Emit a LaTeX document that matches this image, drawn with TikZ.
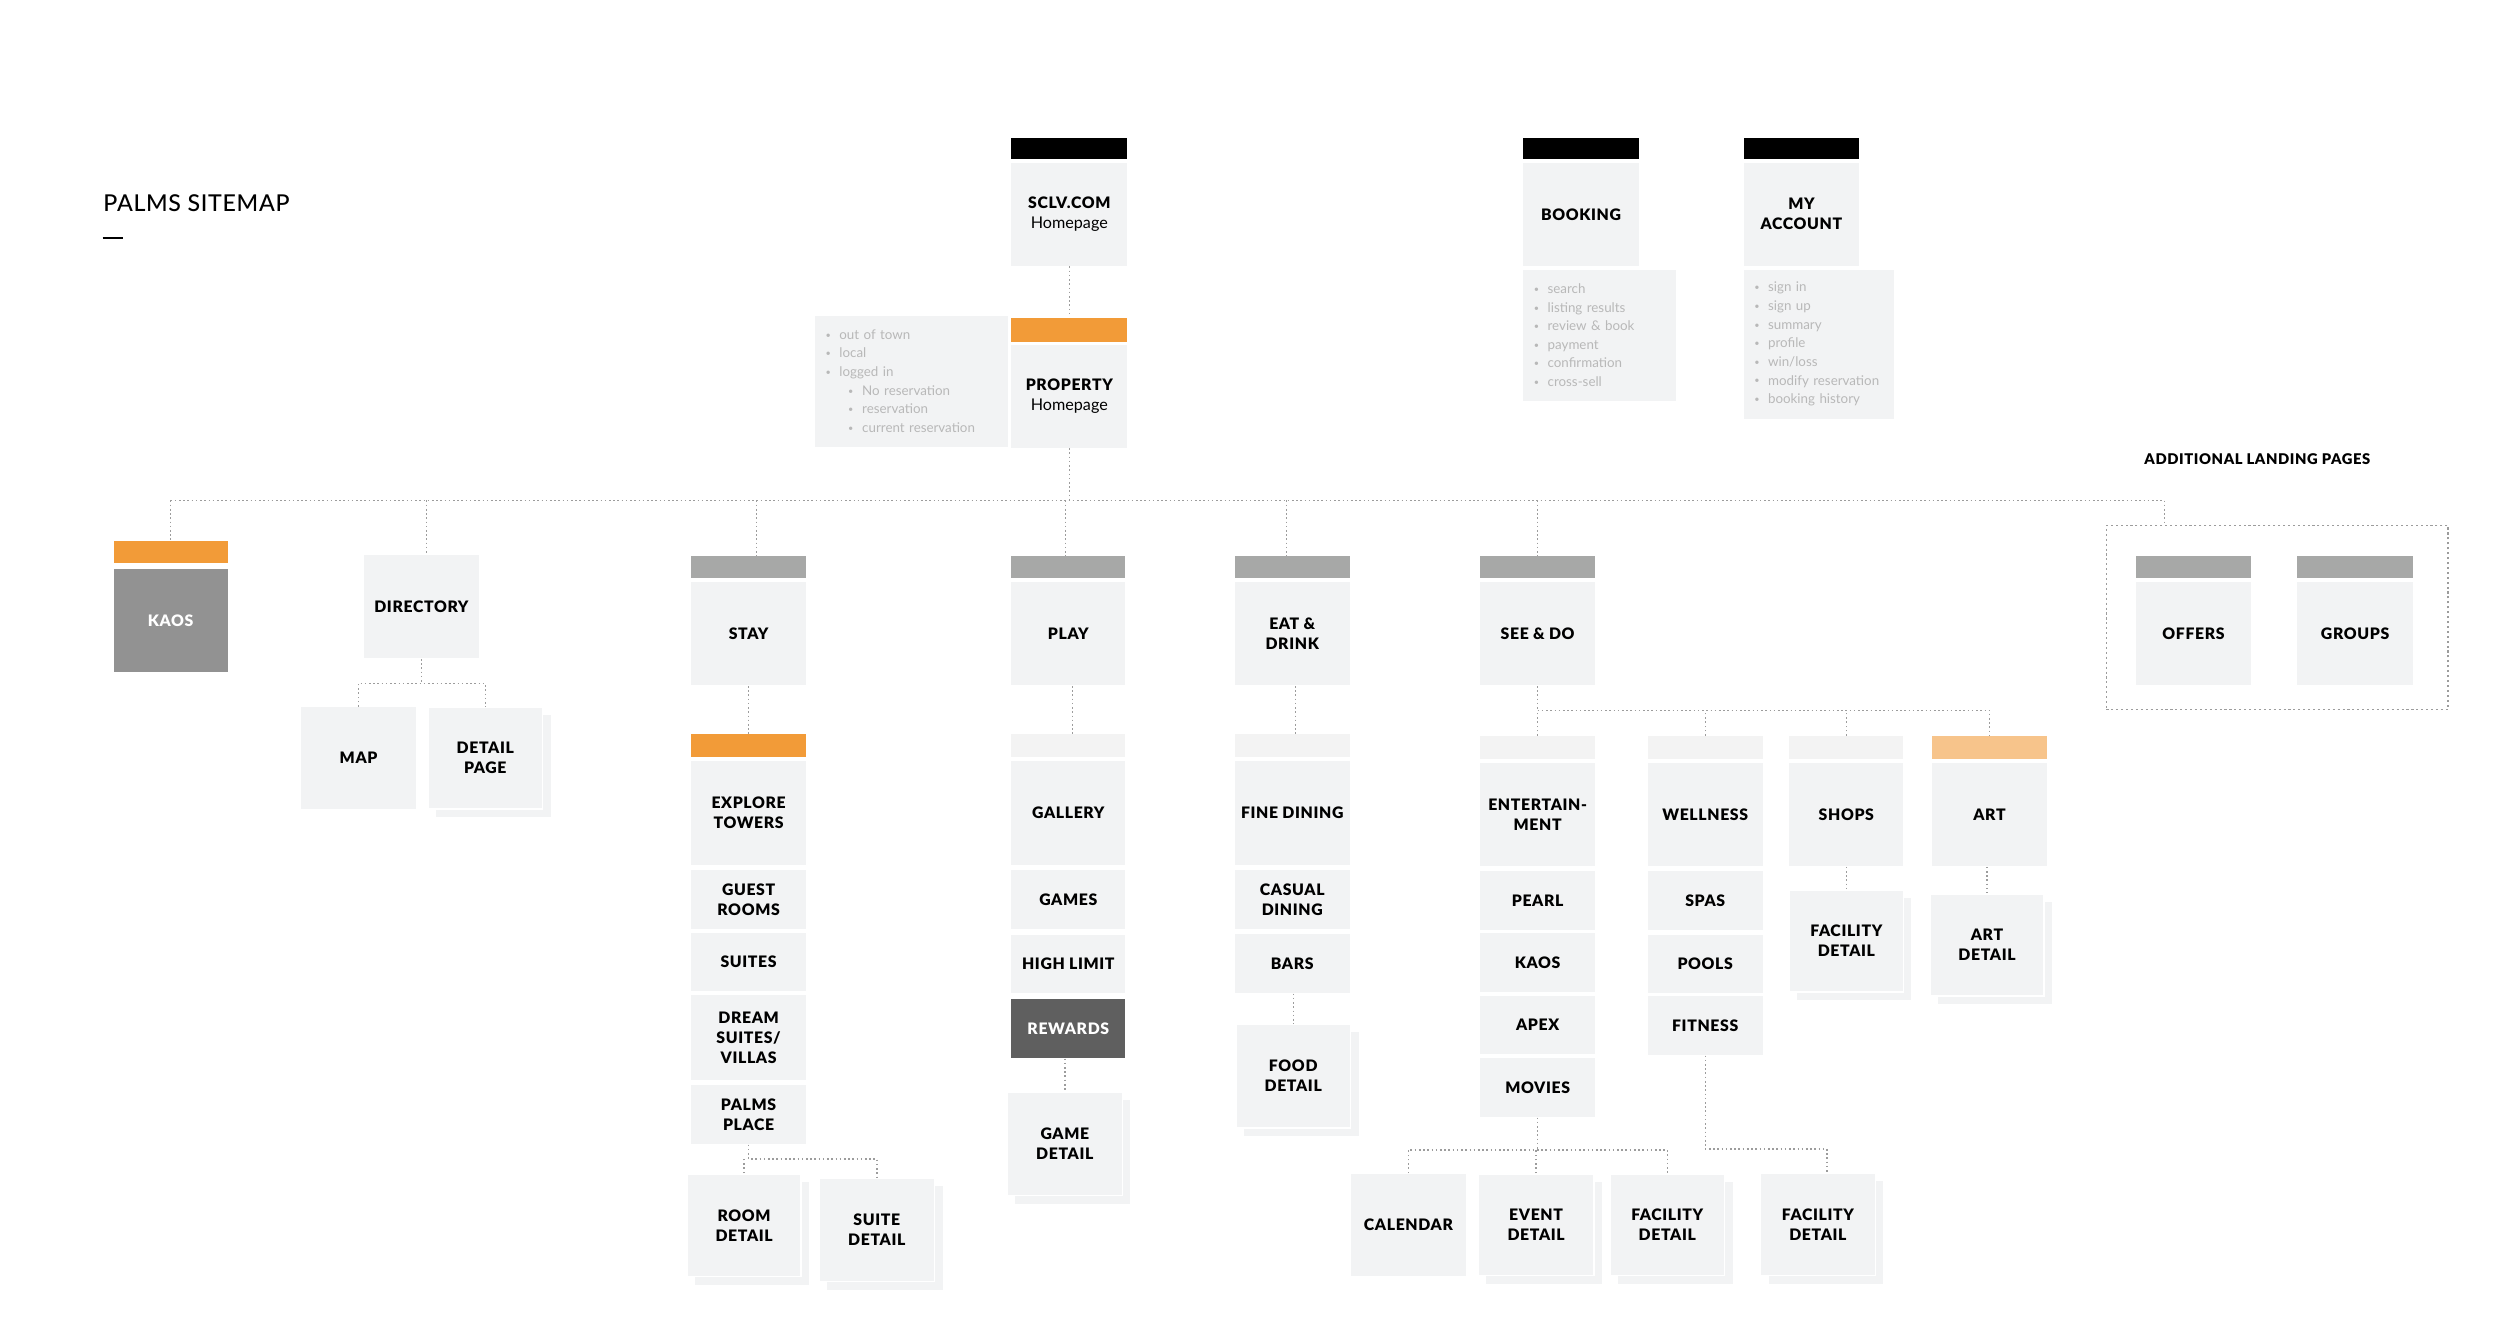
\documentclass[tikz,border=0pt]{standalone}
\usepackage{fontspec}
\setmainfont{Lato}
\newfontfamily\lblfont[LetterSpace=4, BoldFont={Lato Black}]{Lato}
\newfontfamily\titlefont[LetterSpace=3]{Lato Medium}
\definecolor{boxgray}{HTML}{F2F3F4}
\definecolor{orng}{HTML}{F29B38}
\definecolor{lorng}{HTML}{F7C48B}
\definecolor{bargray}{HTML}{A7A8A7}
\definecolor{kaosgray}{HTML}{929292}
\definecolor{rewgray}{HTML}{5F5F5F}
\definecolor{linegray}{HTML}{9C9C9C}
\definecolor{notegray}{HTML}{B8B8B8}
\definecolor{lightbar}{HTML}{F3F3F3}
\tikzset{
  box/.style={fill=boxgray, inner sep=0pt, align=center, text=black,
    font={\lblfont\bfseries\fontsize{4.5}{5.7}\selectfont}},
  topbar/.style={fill=#1, inner sep=0pt},
  notes/.style={fill=boxgray, inner sep=0pt, align=left, text=notegray,
    font={\fontsize{3.8}{5.3}\selectfont}},
  conn/.style={draw=linegray, line width=0.4pt, dash pattern=on 0.45pt off 0.75pt},
  landbox/.style={draw=linegray, line width=0.4pt, dash pattern=on 0.6pt off 0.8pt, inner sep=0pt},
  heading/.style={inner sep=0pt, font={\lblfont\bfseries\fontsize{4.2}{5}\selectfont}},
  titlestyle/.style={inner sep=0pt, anchor=west, font={\titlefont\fontsize{6.6}{8}\selectfont}},
}
\newcommand\bx[7]{\node[#6, minimum width={(#4-#2)*0.01cm}, minimum height={(#5-#3)*0.01cm}] (#1) at ({(#2+#4)/2},{(#3+#5)/2}) {#7};}
\newcommand\sbx[6]{\fill[boxgray] ({#2+8},{#3+8}) rectangle ({#4+8},{#5+8});
  \bx{#1}{#2}{#3}{#4}{#5}{box,draw=white,line width=0.4pt}{#6}}
\newcommand\hp[1]{{\normalfont\fontsize{4.6}{5.7}\selectfont #1}}
\newcommand\bl{\hspace*{3.1pt}\makebox[3.9pt][l]{\fontsize{2.6}{3}\selectfont\raisebox{0.3pt}{•}}}
\newcommand\bll{\hspace*{9.5pt}\makebox[4pt][l]{\fontsize{2.6}{3}\selectfont\raisebox{0.3pt}{•}}}
\begin{document}
\begin{tikzpicture}[x=0.009975cm, y=-0.01cm]
\useasboundingbox[fill=white] (0,0) rectangle (2506.3,1340);

% title
\node[titlestyle] (title) at (103,203) {PALMS SITEMAP};
\draw[line width=0.7pt] (103,238) -- (123,238);

% header
\bx{sclvbar}{1014}{138}{1130}{159}{topbar=black}{}
\bx{sclv}{1014}{163}{1130}{266}{box}{SCLV.COM\\\hp{Homepage}}
\bx{propbar}{1014}{318}{1130}{342}{topbar=orng}{}
\bx{prop}{1014}{345}{1130}{448}{box}{PROPERTY\\\hp{Homepage}}
\bx{propnotes}{817}{316}{1010}{447}{notes, text width={193*0.01cm}}{\bl out of town\\\bl local\\\bl logged in\\\bll No reservation\\\bll reservation\\\bll current reservation}

\bx{bookbar}{1527}{138}{1643}{159}{topbar=black}{}
\bx{book}{1527}{163}{1643}{266}{box}{BOOKING}
\bx{booknotes}{1527}{270}{1680}{401}{notes, text width={153*0.01cm}}{\bl search\\\bl listing results\\\bl review \& book\\\bl payment\\\bl confirmation\\\bl cross-sell}

\bx{accbar}{1748}{138}{1864}{159}{topbar=black}{}
\bx{acc}{1748}{163}{1864}{266}{box}{MY\\ACCOUNT}
\bx{accnotes}{1748}{270}{1899}{419}{notes, text width={151*0.01cm}}{\bl sign in\\\bl sign up\\\bl summary\\\bl profile\\\bl win/loss\\\bl modify reservation\\\bl booking history}

\node[heading] (addl) at (2263,460) {ADDITIONAL LANDING PAGES};

% level 1
\bx{kaosbar}{114}{542}{228}{564}{topbar=orng}{}
\bx{kaos}{114}{570}{228}{673}{box, fill=kaosgray, text=white}{KAOS}
\bx{dir}{365}{556}{480}{659}{box}{DIRECTORY}
\bx{staybar}{693}{557}{808}{579}{topbar=bargray}{}
\bx{stay}{693}{583}{808}{686}{box}{STAY}
\bx{playbar}{1014}{557}{1128}{579}{topbar=bargray}{}
\bx{play}{1014}{583}{1128}{686}{box}{PLAY}
\bx{eatbar}{1238}{557}{1353}{579}{topbar=bargray}{}
\bx{eat}{1238}{583}{1353}{686}{box}{EAT \&\\DRINK}
\bx{seebar}{1484}{557}{1599}{579}{topbar=bargray}{}
\bx{see}{1484}{583}{1599}{686}{box}{SEE \& DO}
\bx{landing}{2112}{526}{2454}{710}{landbox}{}
\bx{offersbar}{2141}{557}{2257}{579}{topbar=bargray}{}
\bx{offers}{2141}{583}{2257}{686}{box}{OFFERS}
\bx{groupsbar}{2303}{557}{2419}{579}{topbar=bargray}{}
\bx{groups}{2303}{583}{2419}{686}{box}{GROUPS}

% directory children
\bx{map}{302}{708}{417}{810}{box}{MAP}
\sbx{detail}{429}{708}{544}{810}{DETAIL\\PAGE}

% stay column
\bx{explorebar}{693}{735}{808}{758}{topbar=orng}{}
\bx{explore}{693}{762}{808}{866}{box}{EXPLORE\\TOWERS}
\bx{guest}{693}{871}{808}{930}{box}{GUEST\\ROOMS}
\bx{suites}{693}{934}{808}{992}{box}{SUITES}
\bx{dream}{693}{996}{808}{1081}{box}{DREAM\\SUITES/\\VILLAS}
\bx{palms}{693}{1086}{808}{1145}{box}{PALMS\\PLACE}
\sbx{room}{689}{1175}{803}{1278}{ROOM\\DETAIL}
\sbx{suited}{821}{1179}{937}{1283}{SUITE\\DETAIL}

% play column
\bx{gallerybar}{1014}{735}{1128}{758}{topbar=lightbar}{}
\bx{gallery}{1014}{762}{1128}{866}{box}{GALLERY}
\bx{games}{1014}{871}{1128}{930}{box}{GAMES}
\bx{high}{1014}{936}{1128}{994}{box}{HIGH LIMIT}
\bx{rewards}{1014}{1000}{1128}{1059}{box, fill=rewgray, text=white}{REWARDS}
\sbx{gamed}{1010}{1093}{1125}{1197}{GAME\\DETAIL}

% eat column
\bx{finebar}{1238}{735}{1353}{758}{topbar=lightbar}{}
\bx{fine}{1238}{762}{1353}{866}{box}{FINE DINING}
\bx{casual}{1238}{871}{1353}{930}{box}{CASUAL\\DINING}
\bx{bars}{1238}{935}{1353}{994}{box}{BARS}
\sbx{food}{1239}{1025}{1354}{1129}{FOOD\\DETAIL}

% see & do columns
\bx{entbar}{1484}{737}{1599}{760}{topbar=lightbar}{}
\bx{ent}{1484}{764}{1599}{867}{box}{ENTERTAIN-\\MENT}
\bx{pearl}{1484}{872}{1599}{931}{box}{PEARL}
\bx{kaostwo}{1484}{934}{1599}{993}{box}{KAOS}
\bx{apex}{1484}{997}{1599}{1055}{box}{APEX}
\bx{movies}{1484}{1059}{1599}{1118}{box}{MOVIES}

\bx{wellbar}{1652}{737}{1767}{760}{topbar=lightbar}{}
\bx{well}{1652}{764}{1767}{867}{box}{WELLNESS}
\bx{spas}{1652}{872}{1767}{931}{box}{SPAS}
\bx{pools}{1652}{936}{1767}{994}{box}{POOLS}
\bx{fitness}{1652}{997}{1767}{1056}{box}{FITNESS}

\bx{shopsbar}{1794}{737}{1908}{760}{topbar=lightbar}{}
\bx{shops}{1794}{764}{1908}{867}{box}{SHOPS}
\sbx{shopsd}{1794}{891}{1908}{993}{FACILITY\\DETAIL}

\bx{artbar}{1937}{737}{2052}{760}{topbar=lorng}{}
\bx{art}{1937}{764}{2052}{867}{box}{ART}
\sbx{artd}{1935}{895}{2049}{997}{ART\\DETAIL}

\bx{cal}{1354}{1175}{1470}{1277}{box}{CALENDAR}
\sbx{event}{1482}{1175}{1598}{1277}{EVENT\\DETAIL}
\sbx{facone}{1614}{1175}{1729}{1277}{FACILITY\\DETAIL}
\sbx{factwo}{1765}{1174}{1880}{1277}{FACILITY\\DETAIL}

% connectors
\coordinate (bus) at (0,501);
\coordinate (landtop) at (2170,526);
\draw[conn] (sclv.south) -- (propbar.north);
\draw[conn] (prop.south) -- (prop.south |- bus);
\draw[conn] (kaosbar.north |- bus) -- (landtop |- bus) -- (landtop);
\draw[conn] (kaosbar.north |- bus) -- (kaosbar.north);
\draw[conn] ([xshift=0.05cm]dir.north |- bus) -- ([xshift=0.05cm]dir.north);
\draw[conn] ([xshift=0.08cm]staybar.north |- bus) -- ([xshift=0.08cm]staybar.north);
\draw[conn] ([xshift=-0.03cm]playbar.north |- bus) -- ([xshift=-0.03cm]playbar.north);
\draw[conn] ([xshift=-0.06cm]eatbar.north |- bus) -- ([xshift=-0.06cm]eatbar.north);
\draw[conn] (seebar.north |- bus) -- (seebar.north);

\coordinate (dbus) at (0,684);
\draw[conn] (dir.south) -- (dir.south |- dbus);
\draw[conn] (map.north) -- (map.north |- dbus) -- (detail.north |- dbus) -- (detail.north);

\draw[conn] (stay.south) -- (explorebar.north);
\draw[conn] ([xshift=0.04cm]play.south) -- ([xshift=0.04cm]gallerybar.north);
\draw[conn] ([xshift=0.03cm]eat.south) -- ([xshift=0.03cm]finebar.north);

\coordinate (sbus) at (0,711);
\draw[conn] (see.south) -- (see.south |- sbus);
\draw[conn] (entbar.north) -- (entbar.north |- sbus) -- (artbar.north |- sbus) -- (artbar.north);
\draw[conn] (wellbar.north) -- (wellbar.north |- sbus);
\draw[conn] (shopsbar.north) -- (shopsbar.north |- sbus);

\coordinate (pbus) at (0,1160);
\draw[conn] (palms.south) -- (palms.south |- pbus) -- (suited.north |- pbus) -- (suited.north);
\draw[conn] (room.north) -- (room.north |- pbus);

\draw[conn] (gamed.north |- rewards.south) -- (gamed.north);
\draw[conn] (food.north |- bars.south) -- (food.north);
\draw[conn] (shopsd.north |- shops.south) -- (shopsd.north);
\draw[conn] (artd.north |- art.south) -- (artd.north);

\coordinate (mbus) at (0,1151);
\draw[conn] (movies.south) -- (movies.south |- mbus);
\draw[conn] (cal.north) -- (cal.north |- mbus) -- (facone.north |- mbus) -- (facone.north);
\draw[conn] (event.north) -- (event.north |- mbus);

\coordinate (fbus) at (0,1150);
\draw[conn] (fitness.south) -- (fitness.south |- fbus) -- ([xshift=0.09cm]factwo.north |- fbus) -- ([xshift=0.09cm]factwo.north);
\end{tikzpicture}
\end{document}
